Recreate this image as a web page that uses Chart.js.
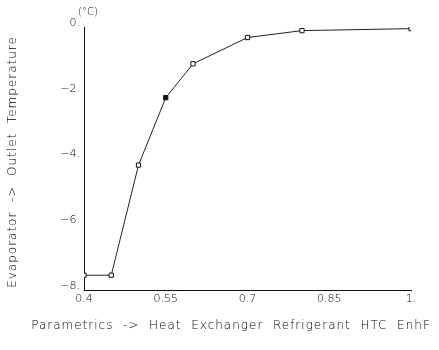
<!DOCTYPE html>
<html>
<head>
<meta charset="utf-8">
<script src="https://cdn.jsdelivr.net/npm/chart.js@4/dist/chart.umd.min.js"></script>
<style>
  html, body { margin: 0; padding: 0; background: #fff; }
  #wrap { width: 439px; height: 350px; }
</style>
</head>
<body>
<div id="wrap"><canvas id="grafico" width="439" height="350"></canvas></div>
<script>
// dados
const enhF = [0.4, 0.45, 0.5, 0.55, 0.6, 0.7, 0.8, 1.0];
const outletTemp = [-7.55, -7.55, -4.2, -2.15, -1.12, -0.32, -0.11, -0.05];
const selectedIndex = 3; // ponto preenchido
const yTicks = [0, -2, -4, -6, -8];
const xTicks = [0.4, 0.55, 0.7, 0.85, 1.0];

const yTitle = 'Evaporator  ->  Outlet  Temperature';
const xTitle = 'Parametrics  ->  Heat  Exchanger  Refrigerant  HTC  EnhF';
const unitLabel = '(°C)';

const fonte = 'DejaVu Sans';
const corTexto = '#000';

// textos extras (unidade e títulos dos eixos)
const textosExtras = {
  id: 'textosExtras',
  afterDraw(chart) {
    const ctx = chart.ctx;
    ctx.save();
    ctx.fillStyle = corTexto;
    ctx.font = '200 10px "' + fonte + '"';
    ctx.textAlign = 'left';
    ctx.textBaseline = 'middle';
    ctx.fillText(unitLabel, 78, 12);

    ctx.font = '200 12px "' + fonte + '"';
    ctx.letterSpacing = '1px';
    ctx.textAlign = 'center';
    ctx.fillText(xTitle, 231, 326);

    ctx.translate(13, 162);
    ctx.rotate(-Math.PI / 2);
    ctx.fillText(yTitle, 0, 0);
    ctx.restore();
  }
};

const pontos = enhF.map((x, i) => ({ x: x, y: outletTemp[i] }));

new Chart(document.getElementById('grafico').getContext('2d'), {
  type: 'line',
  data: {
    datasets: [{
      data: pontos,
      borderColor: '#222',
      borderWidth: 1,
      pointStyle: 'rect',
      pointRadius: 3,
      pointBorderWidth: 1,
      pointBorderColor: '#111',
      pointBackgroundColor: enhF.map((_, i) => i === selectedIndex ? '#111' : '#fff'),
      tension: 0
    }]
  },
  options: {
    responsive: false,
    animation: false,
    layout: { padding: { top: 27, right: 28, left: 0, bottom: 0 } },
    plugins: { legend: { display: false }, tooltip: { enabled: false } },
    scales: {
      x: {
        type: 'linear',
        min: 0.4,
        max: 1.0,
        afterBuildTicks: (axis) => { axis.ticks = xTicks.map(v => ({ value: v })); },
        afterFit: (axis) => { axis.height = 60; },
        grid: { display: false, drawTicks: false, tickLength: 0 },
        border: { display: true, color: '#111', width: 1 },
        ticks: {
          color: corTexto,
          font: { family: fonte, size: 11, weight: '200' },
          padding: 3,
          maxRotation: 0,
          callback: (v) => v === 1 ? '1.' : String(Number(v.toFixed(2)))
        }
      },
      y: {
        min: -8,
        max: 0,
        afterBuildTicks: (axis) => { axis.ticks = yTicks.map(v => ({ value: v })); },
        afterFit: (axis) => { axis.width = 84; },
        grid: { display: false, drawTicks: false, tickLength: 0 },
        border: { display: true, color: '#111', width: 1 },
        ticks: {
          color: corTexto,
          font: { family: fonte, size: 11, weight: '200' },
          padding: 4,
          labelOffset: -4,
          callback: (v) => (v === 0 ? '0' : String(v).replace('-', '\u2212')) + '.'
        }
      }
    }
  },
  plugins: [textosExtras]
});
</script>
</body>
</html>
